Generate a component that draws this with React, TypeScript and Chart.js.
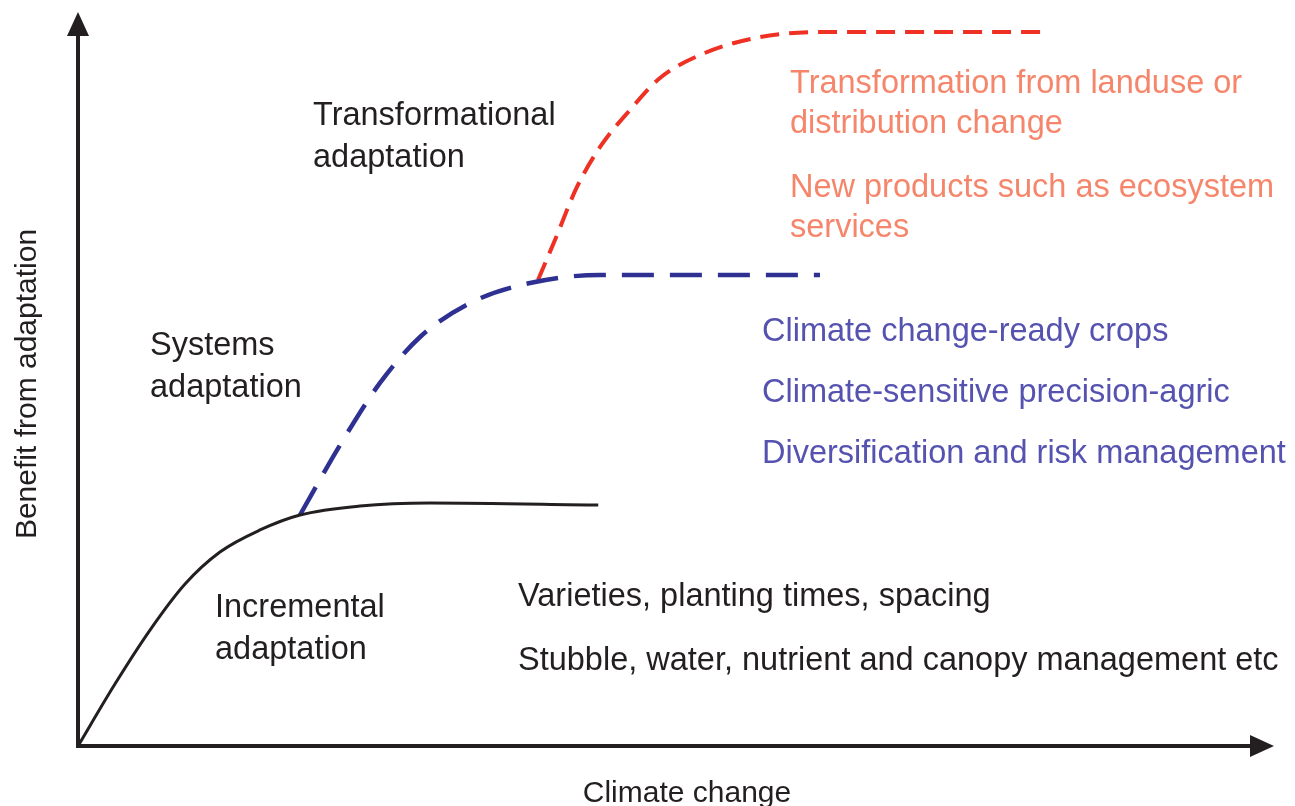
import React, { useEffect, useRef } from "react";
import { Chart, registerables } from "chart.js";

Chart.register(...registerables);

// Curve points (x: climate change, y: benefit from adaptation), 0..100 units
const incrementalX = [0, 3.09, 6.02, 8.95, 11.87, 15.22, 18.56, 23.58, 29.43, 43.5];
const incrementalY = [0, 8.45, 15.8, 22.07, 26.43, 29.43, 31.47, 32.7, 33.11, 32.83];

const systemsX = [18.56, 21.91, 25.25, 28.6, 32.78, 37.79, 43.65, 52.01, 62.04];
const systemsY = [31.47, 41.01, 49.46, 55.72, 60.35, 63.08, 64.17, 64.17, 64.17];

const transformX = [38.46, 39.88, 41.72, 43.65, 46.15, 48.66, 52.01, 57.02, 62.88, 81.27];
const transformY = [63.49, 68.94, 76.16, 81.61, 86.65, 91.01, 94.14, 96.59, 97.28, 97.28];

const xAxisTitle = "Climate change";
const yAxisTitle = "Benefit from adaptation";

const blackLabels = [
  ["Transformational", "adaptation"],
  ["Systems", "adaptation"],
  ["Incremental", "adaptation"],
];
const incrementalExamples = [
  "Varieties, planting times, spacing",
  "Stubble, water, nutrient and canopy management etc",
];
const systemsExamples = [
  "Climate change-ready crops",
  "Climate-sensitive precision-agric",
  "Diversification and risk management",
];
const transformExamples = [
  ["Transformation from landuse or", "distribution change"],
  ["New products such as ecosystem", "services"],
];

const toPoints = (xs: number[], ys: number[]) => xs.map((x, i) => ({ x, y: ys[i] }));

const FONT = '"Liberation Sans", Arial, sans-serif';
const BLACK = "#231f20";
const RED_TEXT = "#f5866b";
const BLUE_TEXT = "#5552b0";

const overlayPlugin = {
  id: "overlay",
  afterDraw(chart: any) {
    const { ctx, chartArea } = chart;
    const { left, bottom, right, top } = chartArea;
    ctx.save();
    // axes
    ctx.strokeStyle = BLACK;
    ctx.fillStyle = BLACK;
    ctx.lineWidth = 4;
    ctx.lineCap = "butt";
    ctx.beginPath();
    ctx.moveTo(left, bottom + 2);
    ctx.lineTo(left, top + 20);
    ctx.moveTo(left - 2, bottom);
    ctx.lineTo(right - 20, bottom);
    ctx.stroke();
    // arrow heads
    ctx.beginPath();
    ctx.moveTo(left, top);
    ctx.lineTo(left - 11, top + 24);
    ctx.lineTo(left + 11, top + 24);
    ctx.closePath();
    ctx.fill();
    ctx.beginPath();
    ctx.moveTo(right, bottom);
    ctx.lineTo(right - 24, bottom - 11);
    ctx.lineTo(right - 24, bottom + 11);
    ctx.closePath();
    ctx.fill();

    // axis titles
    ctx.textBaseline = "middle";
    ctx.font = `30px ${FONT}`;
    ctx.textAlign = "center";
    ctx.fillText(xAxisTitle, 687, 794);
    ctx.save();
    ctx.translate(28, 384);
    ctx.rotate(-Math.PI / 2);
    ctx.fillText(yAxisTitle, 0, 0);
    ctx.restore();

    ctx.textAlign = "left";
    ctx.font = `32.5px ${FONT}`;
    // black category labels
    const blackPos = [
      [313, 116],
      [150, 346],
      [215, 608],
    ];
    blackLabels.forEach((lines, i) => {
      lines.forEach((t, j) => ctx.fillText(t, blackPos[i][0], blackPos[i][1] + j * 42));
    });
    // incremental examples
    ctx.fillText(incrementalExamples[0], 518, 597);
    ctx.fillText(incrementalExamples[1], 518, 661);
    // systems examples
    ctx.fillStyle = BLUE_TEXT;
    systemsExamples.forEach((t, i) => ctx.fillText(t, 762, 332 + i * 61));
    // transformational examples
    ctx.fillStyle = RED_TEXT;
    const redY = [84, 188];
    transformExamples.forEach((lines, i) => {
      lines.forEach((t, j) => ctx.fillText(t, 790, redY[i] + j * 40));
    });
    ctx.restore();
  },
};

export default function App() {
  const ref = useRef<HTMLCanvasElement>(null);
  useEffect(() => {
    document.body.style.margin = "0";
    document.body.style.overflow = "hidden";
    const chart = new Chart(ref.current!, {
      type: "scatter",
      data: {
        datasets: [
          {
            label: "Incremental",
            data: toPoints(incrementalX, incrementalY),
            showLine: true,
            borderColor: BLACK,
            borderWidth: 3,
            pointRadius: 0,
            cubicInterpolationMode: "monotone",
          },
          {
            label: "Systems",
            data: toPoints(systemsX, systemsY),
            showLine: true,
            borderColor: "#2e3192",
            borderWidth: 4.5,
            borderDash: [32, 16],
            pointRadius: 0,
            cubicInterpolationMode: "monotone",
          },
          {
            label: "Transformational",
            data: toPoints(transformX, transformY),
            showLine: true,
            borderColor: "#ee3124",
            borderWidth: 4,
            borderDash: [19, 10],
            pointRadius: 0,
            cubicInterpolationMode: "monotone",
          },
        ],
      },
      options: {
        responsive: false,
        animation: false,
        layout: { padding: { left: 78, right: 21, top: 12, bottom: 60 } },
        plugins: { legend: { display: false }, tooltip: { enabled: false } },
        scales: {
          x: { type: "linear", min: 0, max: 100, display: false },
          y: { type: "linear", min: 0, max: 100, display: false },
        },
      },
      plugins: [overlayPlugin],
    } as any);
    return () => chart.destroy();
  }, []);
  return (
    <canvas
      ref={ref}
      width={1295}
      height={806}
      style={{ display: "block", width: 1295, height: 806 }}
    />
  );
}
